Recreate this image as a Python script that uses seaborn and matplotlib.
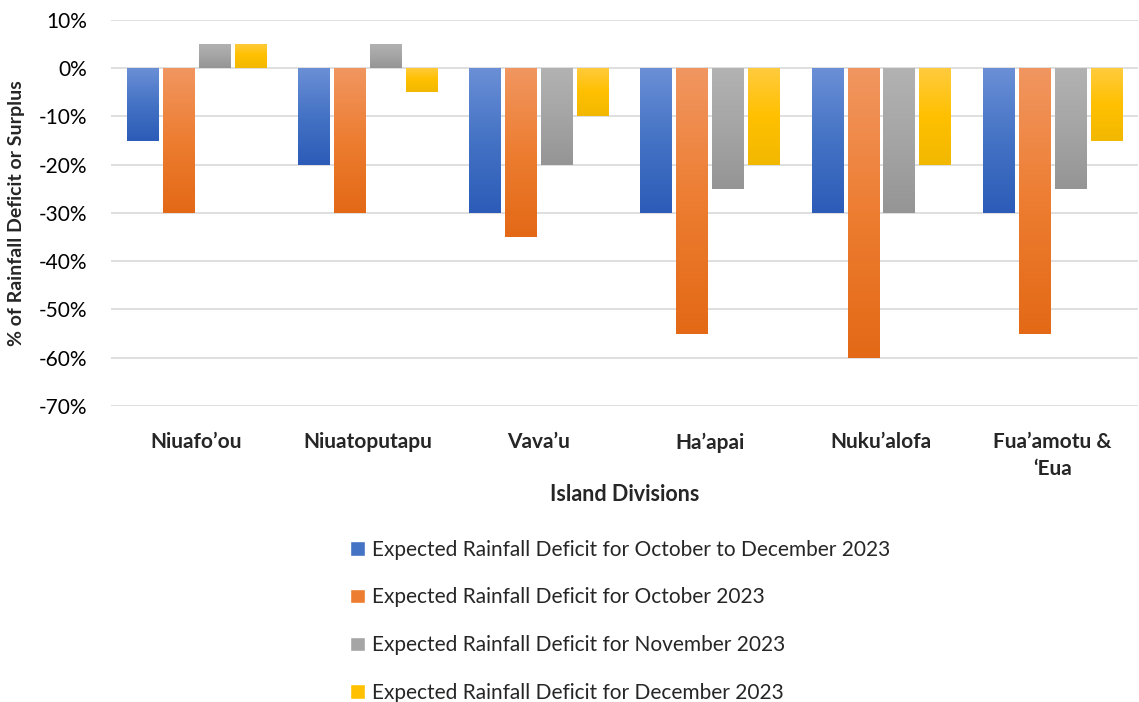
"""
Tonga rainfall deficit outlook by island division
"""
from matplotlib import pyplot as plt
import matplotlib.colors as mcolors
import matplotlib.ticker as mticker
import pandas as pd
import numpy as np
import seaborn as sns

divisions = ['Niuafo’ou', 'Niuatoputapu', 'Vava’u', 'Ha’apai', 'Nuku’alofa', 'Fua’amotu &\n‘Eua']
series = [
    'Expected Rainfall Deficit for October to December 2023',
    'Expected Rainfall Deficit for October 2023',
    'Expected Rainfall Deficit for November 2023',
    'Expected Rainfall Deficit for December 2023',
]
oct_dec = [-15, -20, -30, -30, -30, -30]
october = [-30, -30, -35, -55, -60, -55]
november = [5, 5, -20, -25, -30, -25]
december = [5, -5, -10, -20, -20, -15]

# colours: base, light top, dark bottom (Excel style gradient)
colors = ['#4472C4', '#ED7D31', '#A5A5A5', '#FFC000']
grad_top = ['#6a8fd6', '#f19660', '#b2b2b2', '#ffcb3d']
grad_bot = ['#2c5cb8', '#e36916', '#959595', '#f2b800']

rows = []
for name, vals in zip(series, [oct_dec, october, november, december]):
    for div, v in zip(divisions, vals):
        rows.append([div, name, v])
data = pd.DataFrame(rows, columns=['division', 'series', 'value'])

sns.set_style('white')
plt.rcParams['font.family'] = ['Lato', 'DejaVu Sans']

fig = plt.figure(figsize=(11.39, 7.02), dpi=100)
ax = fig.add_axes([0.0975, 0.4217, 0.9015, 0.5498])

sns.barplot(data=data, x='division', y='value', hue='series', palette=colors,
            width=0.84, gap=0.13, ax=ax, saturation=1, errorbar=None)

ax.set_ylim(-70, 10)
xlim = ax.get_xlim()
ax.yaxis.set_major_locator(mticker.MultipleLocator(10))
ax.yaxis.set_major_formatter(mticker.FuncFormatter(lambda v, p: f'{int(round(v))}%'))
ax.grid(axis='y', color='#d9d9d9', linewidth=1.2, zorder=0)
ax.set_axisbelow(True)
for s in ax.spines.values():
    s.set_visible(False)

# gradient fills clipped to each bar
for i, cont in enumerate(ax.containers):
    cmap = mcolors.LinearSegmentedColormap.from_list(
        f'g{i}', [grad_top[i], colors[i], grad_bot[i]])
    grad = np.linspace(0, 1, 100).reshape(-1, 1)
    for patch in cont.patches:
        x, y = patch.get_x(), patch.get_y()
        w, h = patch.get_width(), patch.get_height()
        lo, hi = min(y, y + h), max(y, y + h)
        im = ax.imshow(grad, cmap=cmap, aspect='auto', origin='upper',
                       extent=[x, x + w, lo, hi], zorder=2)
        im.set_clip_path(patch)
        patch.set_edgecolor('none')
ax.set_xlim(xlim)
ax.set_ylim(-70, 10)

ax.tick_params(axis='y', labelsize=15, length=0, pad=17, labelcolor='#000000')
ax.tick_params(axis='x', labelsize=15, length=0, pad=19)
for lbl in ax.get_xticklabels():
    lbl.set_fontweight('bold')
    lbl.set_linespacing(1.4)
ax.set_xlabel('Island Divisions', fontsize=15.5, fontweight='bold', labelpad=4)
ax.set_ylabel('% of Rainfall Deficit or Surplus', fontsize=14, fontweight='bold', labelpad=10)

handles, labels = ax.get_legend_handles_labels()
ax.get_legend().remove()
fig.legend(handles, labels, loc='upper left', bbox_to_anchor=(0.3, 0.243),
           frameon=False, fontsize=15, handlelength=0.7, handleheight=0.7,
           handletextpad=0.35, labelspacing=1.33, borderaxespad=0)

fig.savefig('out.png', dpi=100)
